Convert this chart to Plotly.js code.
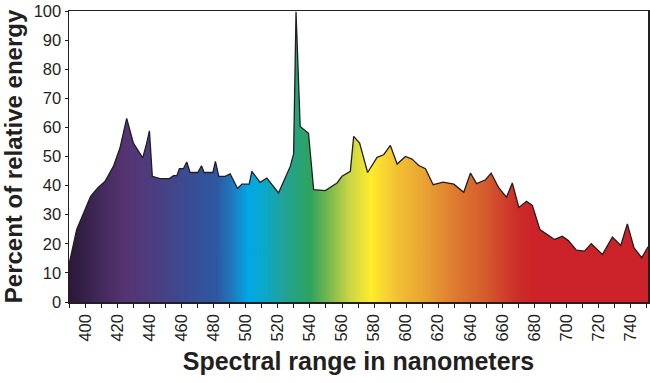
<!DOCTYPE html>
<html>
<head>
<meta charset="utf-8">
<script src="https://cdn.plot.ly/plotly-3.0.1.min.js"></script>
<style>html,body{margin:0;padding:0;background:#fff;}#chart{width:650px;height:383px;}</style>
</head>
<body>
<div id="chart"></div>
<script>
const wavelength = [389.6, 394.4, 403.1, 407.5, 412.0, 417.3, 421.4, 425.6, 429.8, 435.6, 438.1, 439.8, 441.6, 446.4, 452.3, 454.8, 456.9, 458.5, 461.0, 463.1, 465.2, 470.0, 472.3, 473.9, 479.4, 481.0, 483.1, 487.1, 490.2, 494.8, 497.5, 502.1, 503.7, 508.9, 513.1, 520.4, 527.7, 529.8, 531.3, 533.9, 539.1, 542.3, 549.6, 556.9, 560.0, 565.2, 567.3, 571.0, 576.0, 581.9, 586.0, 590.2, 594.4, 599.6, 603.7, 607.9, 612.1, 616.9, 623.1, 629.8, 636.0, 640.2, 644.0, 649.6, 653.1, 657.9, 662.7, 666.3, 670.4, 675.2, 678.8, 683.5, 688.1, 692.7, 697.5, 701.3, 706.3, 711.4, 715.6, 722.5, 728.8, 734.0, 738.1, 742.3, 747.1, 751.0];
const energy = [12.9, 24.9, 36.3, 39.2, 41.4, 46.6, 52.9, 63.1, 54.6, 49.5, 54.6, 58.8, 43.2, 42.4, 42.4, 43.4, 43.4, 45.8, 45.8, 48.1, 44.5, 44.5, 46.8, 44.5, 44.5, 48.3, 43.2, 43.2, 44.0, 39.0, 40.5, 40.5, 44.9, 41.1, 42.6, 37.5, 46.6, 50.9, 99.7, 60.3, 58.0, 38.6, 38.3, 40.9, 43.2, 44.9, 56.9, 54.6, 44.5, 49.7, 50.6, 53.8, 47.4, 50.0, 49.1, 46.9, 45.8, 40.3, 41.2, 40.5, 37.7, 44.3, 40.7, 42.0, 44.3, 39.2, 36.0, 40.9, 32.5, 34.6, 33.2, 24.9, 23.2, 21.5, 22.6, 21.1, 17.8, 17.5, 20.0, 16.3, 22.3, 19.4, 26.8, 18.6, 15.2, 19.0];
const xTicks = [400, 420, 440, 460, 480, 500, 520, 540, 560, 580, 600, 620, 640, 660, 680, 700, 720, 740];
const yTicks = [0, 10, 20, 30, 40, 50, 60, 70, 80, 90, 100];

const xMin = 389.6, xMax = 751.0;
const spectrum = [
  [389.6, '#2a1838'], [410, '#432a5c'], [425, '#553472'], [445, '#4a3f82'],
  [465, '#3a4c94'], [482, '#2d58a2'], [492, '#1e7cc0'], [502, '#00a9e6'],
  [512, '#0aa8c8'], [522, '#1ea39e'], [540, '#2ea35e'], [552, '#7ab84e'],
  [564, '#c6d446'], [578, '#fdec2c'], [595, '#f2bf34'], [612, '#e8a232'],
  [630, '#de7c30'], [650, '#d45a2c'], [668, '#cd302a'], [680, '#cc2229'], [751, '#cc2229']
];
const colorscale = spectrum.map(p => [(p[0] - xMin) / (xMax - xMin), p[1]]);

const trace = {
  x: wavelength, y: energy, type: 'scatter', mode: 'lines',
  line: {color: '#231f20', width: 1.3},
  fill: 'tozeroy',
  fillgradient: {type: 'horizontal', colorscale: colorscale, start: xMin, stop: xMax},
  hoverinfo: 'skip'
};

const tickFont = {family: 'Liberation Sans, Arial, sans-serif', size: 16.5, color: '#231f20'};

const layout = {
  width: 650, height: 383,
  margin: {l: 69, r: 2, t: 11, b: 81},
  paper_bgcolor: '#ffffff', plot_bgcolor: '#ffffff',
  showlegend: false,
  xaxis: {
    range: [xMin, xMax], tickmode: 'array', tickvals: xTicks, ticktext: xTicks.map(String),
    tickangle: -90, ticks: 'outside', ticklen: 4, tickwidth: 1, tickcolor: '#231f20',
    minor: {dtick: 10, tick0: 400, ticks: 'outside', ticklen: 4, tickwidth: 1, tickcolor: '#231f20', showgrid: false},
    showgrid: false, zeroline: false, showline: true, linecolor: '#231f20', linewidth: 1.5, mirror: true,
    tickfont: tickFont,
    title: {text: 'Spectral range in nanometers', font: {family: 'Liberation Sans, Arial, sans-serif', size: 25, color: '#231f20', weight: 'bold'}, standoff: 12}
  },
  yaxis: {
    range: [0, 100], tickmode: 'array', tickvals: yTicks, ticktext: yTicks.map(String),
    ticks: 'outside', ticklen: 3, tickwidth: 1, tickcolor: '#231f20',
    showgrid: false, zeroline: false, showline: true, linecolor: '#231f20', linewidth: 1.5, mirror: true,
    tickfont: tickFont,
    title: {text: 'Percent of relative energy', font: {family: 'Liberation Sans, Arial, sans-serif', size: 24, color: '#231f20', weight: 'bold'}, standoff: 5}
  }
};

Plotly.newPlot('chart', [trace], layout, {displayModeBar: false, staticPlot: true});
</script>
</body>
</html>
